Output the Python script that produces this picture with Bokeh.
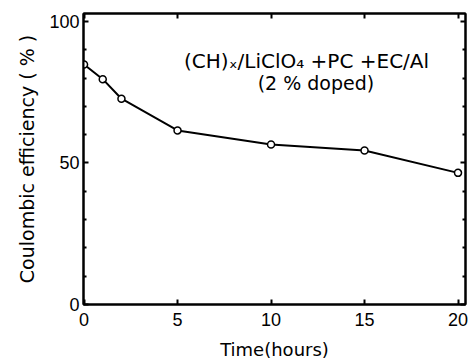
from bokeh.plotting import figure
from bokeh.models import FixedTicker, LinearAxis, Range1d
from bokeh.core.properties import value
from bokeh.embed import file_html
from bokeh.resources import INLINE

time_h = [0, 1, 2, 5, 10, 15, 20]
efficiency = [84.8, 79.6, 72.7, 61.5, 56.5, 54.4, 46.5]
x_ticks = [0, 5, 10, 15, 20]
y_ticks = [0, 50, 100]
y_minor = [10, 20, 30, 40, 60, 70, 80, 90]

FONT = "Liberation Sans"
LFONT = "DejaVu Sans"

p = figure(width=469, height=362, output_backend="svg", toolbar_location=None,
           x_range=Range1d(-0.03, 20.4), y_range=Range1d(0, 102.8),
           min_border_left=83, min_border_right=4, min_border_top=13, min_border_bottom=58,
           x_axis_label="Time(hours)", y_axis_label="Coulombic efficiency ( % )")
p.background_fill_color = "white"
p.border_fill_color = "white"
p.grid.visible = False
p.outline_line_color = "black"
p.outline_line_width = 2

def style(ax, ticks, minor, labels=True):
    ax.ticker = FixedTicker(ticks=ticks, minor_ticks=minor)
    ax.axis_line_color = "black"
    ax.axis_line_width = 2
    ax.major_tick_in = 5
    ax.major_tick_out = 0
    ax.minor_tick_in = 3
    ax.minor_tick_out = 0
    ax.major_tick_line_width = 2
    ax.minor_tick_line_width = 2
    ax.major_label_text_font = FONT
    ax.major_label_text_font_size = "18px"
    ax.major_label_text_color = "black"
    ax.major_label_standoff = 4
    if not labels:
        ax.major_label_overrides = {t: "" for t in ticks}
        ax.major_label_standoff = 0
        ax.major_label_text_font_size = "1px"
    ax.axis_label_text_font = LFONT
    ax.axis_label_text_font_size = "18px"
    ax.axis_label_text_font_style = "normal"
    ax.axis_label_text_color = "black"

style(p.xaxis[0], x_ticks, [])
style(p.yaxis[0], y_ticks, y_minor)
p.xaxis[0].major_label_standoff = 8
p.xaxis[0].axis_label_standoff = 10
p.yaxis[0].axis_label_standoff = 8
p.yaxis[0].axis_label_text_font_size = "19px"

top = LinearAxis()
style(top, x_ticks, [], labels=False)
p.add_layout(top, "above")
right = LinearAxis()
style(right, y_ticks, y_minor, labels=False)
p.add_layout(right, "right")

p.line(time_h, efficiency, line_color="black", line_width=2)
p.scatter(time_h, efficiency, marker="circle", size=7, line_color="black",
          line_width=1.5, fill_color="white")

p.text(x=[11.9], y=[85.9], text=["(CH)ₓ/LiClO₄ +PC +EC/Al"], text_font=value(LFONT),
       text_font_size="20px", text_align="center", text_baseline="middle", text_color="black")
p.text(x=[12.4], y=[78.1], text=["(2 % doped)"], text_font=value(LFONT),
       text_font_size="19px", text_align="center", text_baseline="middle", text_color="black")

open("out.html", "w").write(file_html(p, INLINE))
